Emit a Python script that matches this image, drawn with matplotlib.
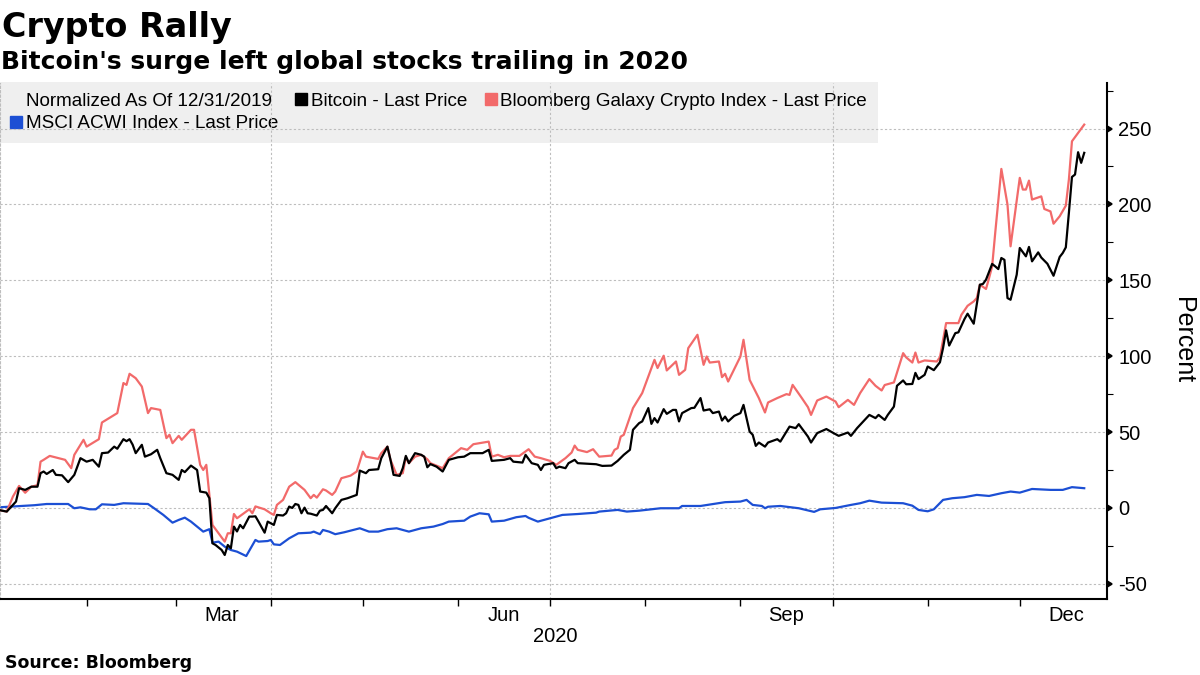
import matplotlib
matplotlib.use("Agg")
import matplotlib.pyplot as plt
import matplotlib.dates as mdates
from matplotlib.lines import Line2D
import pandas as pd

# days after 12/31/2019, percent change since then
galaxy_days = [0, 6, 8, 10, 12, 14, 16, 17, 18, 20, 25, 27, 28, 31, 32, 36, 37, 42, 44, 45, 46, 48, 50,
               52, 53, 56, 58, 59, 60, 62, 63, 66, 67, 69, 70, 71, 73, 77, 78, 79, 80, 81, 85, 86, 87,
               90, 92, 93, 94, 96, 98, 100, 103, 105, 106, 107, 109, 110, 112, 113, 115, 118, 120, 122,
               123, 127, 128, 130, 131, 133, 135, 136, 137, 139, 141, 143, 144, 148, 150, 154, 156, 158,
               163, 164, 166, 168, 170, 173, 176, 178, 180, 183, 185, 188, 190, 191, 192, 195, 197, 199,
               203, 204, 205, 206, 207, 210, 213, 215, 217, 218, 220, 221, 224, 225, 227, 228, 231, 233,
               234, 235, 238, 239, 240, 241, 245, 246, 248, 251, 253, 254, 257, 260, 261, 262, 265, 267,
               268, 270, 273, 276, 277, 280, 282, 284, 287, 289, 291, 292, 295, 298, 299, 301, 302, 303,
               305, 309, 310, 312, 316, 317, 319, 321, 322, 323, 325, 326, 327, 328, 330, 332, 333, 336,
               337, 338, 339, 340, 343, 344, 346, 347, 349, 351, 352, 353, 357]
galaxy_pct = [0, -2.4, 7.5, 14.5, 10, 14, 15, 30.5, 31.7, 34.3, 31.7, 26.2, 35, 44.9, 40.4, 45.3, 56.3,
              62.5, 82.3, 81.1, 88.4, 85.5, 80, 62.5, 65.8, 64.6, 46, 48.2, 42.7, 47.5, 44.9, 51.5, 51.5,
              28.4, 25, 28.4, -11.2, -22.2, -16.7, -16.7, -4, -6.8, -0.9, -3.5, 1, -0.9, -3.5, -4.6, 2,
              5.3, 14, 17, 11.9, 6.4, 8.6, 6.8, 12.3, 11.5, 8.6, 10.8, 19.6, 21.3, 24, 37.1, 33.8, 32.3,
              36.1, 40.4, 31.7, 21.8, 22.9, 33.4, 29.5, 33.8, 35, 32.1, 29.5, 26.2, 32.8, 39.4, 38.3, 42,
              43.7, 33.8, 35, 33.4, 34.3, 34.3, 38.7, 33.8, 32.8, 31, 28.4, 32.8, 36.5, 41.1, 38.3, 36.8,
              38.7, 33.8, 34.5, 38.3, 39.4, 47, 48.2, 65.8, 75.7, 86.6, 97.6, 92.2, 100.3, 90.6, 96.5,
              87.7, 91, 105.3, 114.1, 94.3, 99.8, 95.8, 96.5, 86.2, 88.4, 83.3, 99.8, 110.8, 84.4, 72.4,
              62.9, 69.5, 72.4, 75, 74.5, 81.1, 72.4, 66.4, 61.3, 70.8, 73.4, 70.1, 66.4, 71.2, 67.9,
              75.7, 84.9, 80.5, 77.4, 81, 82.7, 102, 99.2, 95.8, 102.4, 95.8, 97.2, 96.5, 99.4, 121.8,
              121.8, 127.3, 133.2, 136.1, 138.3, 147.1, 144.3, 151.5, 159.2, 181.2, 223.4, 199.9, 172.4,
              217.5, 209.8, 209.8, 215.7, 203.2, 205.3, 197, 195.4, 187.3, 192.2, 199.2, 216.4, 241.6,
              252.6]

bitcoin_days = [0, 6, 9, 10, 12, 14, 16, 17, 18, 19, 21, 22, 24, 26, 28, 30, 32, 34, 36, 37, 39, 41, 42,
                44, 45, 46, 47, 48, 50, 51, 53, 55, 56, 58, 60, 62, 63, 64, 66, 68, 69, 71, 72, 73, 74,
                76, 77, 78, 79, 80, 81, 82, 83, 85, 86, 87, 88, 90, 91, 93, 94, 96, 97, 98, 99, 100, 101,
                102, 103, 104, 105, 107, 108, 109, 110, 112, 113, 115, 117, 120, 121, 123, 124, 127, 128,
                130, 131, 132, 134, 135, 136, 137, 139, 141, 142, 143, 144, 146, 148, 150, 153, 155, 157,
                161, 163, 164, 168, 170, 171, 174, 175, 177, 179, 180, 181, 184, 185, 186, 188, 189, 191,
                192, 198, 200, 203, 205, 207, 209, 210, 212, 213, 215, 216, 217, 218, 220, 221, 223, 224,
                225, 226, 229, 230, 232, 233, 235, 236, 238, 239, 240, 241, 243, 245, 246, 248, 249, 250,
                251, 253, 254, 257, 258, 261, 263, 264, 267, 268, 270, 273, 275, 277, 280, 281, 283, 286,
                287, 289, 290, 292, 293, 295, 296, 298, 299, 301, 302, 303, 305, 306, 308, 310, 311, 312,
                313, 315, 316, 318, 319, 321, 323, 324, 325, 327, 328, 329, 330, 331, 332, 333, 335, 336,
                338, 339, 340, 342, 343, 345, 347, 349, 350, 351, 352, 353, 354, 355, 356, 357]
bitcoin_pct = [0, -2.4, 4.2, 13, 11.9, 14, 14, 22.9, 24, 22.4, 25, 21.8, 21.5, 17, 21.8, 32.8, 30.5, 31.7,
               27.2, 36.1, 36.5, 40.4, 39, 45.3, 44, 45.3, 41.7, 36.1, 41.6, 33.8, 35.4, 38.3, 32.8, 22.9,
               21.8, 18.5, 25, 23.6, 27.9, 25, 10.8, 10.1, 6.4, -23.3, -24.4, -27.7, -31, -24.4, -26.6,
               -12.3, -15.5, -11.2, -13.4, -5.7, -5.7, -5.5, -9, -16.3, -9, -11.2, -4.6, -5, -3.5, 0.9, 0,
               2.6, 2, -3.5, 0.2, -3.5, -3.8, -5, -1.8, -1.3, 1.3, -3.5, -0.2, 5.3, 6.4, 8.6, 24.6, 22.9,
               25, 25.5, 32.8, 40.4, 31.7, 21.8, 21.1, 26.2, 34.3, 29.5, 36.1, 35, 33.8, 26.8, 28.9, 27.2,
               24, 31.7, 33.4, 33.8, 36.1, 36.1, 38.3, 31, 31.7, 32.8, 30.5, 29.9, 35, 29.5, 28.4, 25,
               28.4, 29.5, 26.2, 27.2, 26.2, 29.5, 31.7, 29.5, 28.8, 27.7, 27.9, 31, 35, 38.3, 51.5, 55.9,
               57, 65.8, 55.4, 59.2, 56.3, 65.1, 62, 64.6, 64.6, 57, 62.5, 65.8, 66, 72.4, 64.2, 65, 62.5,
               63.5, 57.6, 60.2, 57, 60.7, 62.5, 67.9, 50.3, 48.2, 40.9, 43.1, 40.4, 43.1, 45.3, 43.7,
               53.6, 52.6, 55.2, 47, 43.1, 49.3, 52, 49.7, 47.5, 49.7, 47.5, 52.6, 59.2, 61.3, 59.2, 61.3,
               58, 61.3, 66.8, 80.5, 84, 81.5, 81.7, 89, 84.9, 87.7, 93.2, 90.8, 96, 105.3, 117, 107,
               115.2, 115.7, 124.5, 128, 121.4, 147.1, 147.6, 150.4, 160.8, 159.2, 157.4, 164.7, 163.5,
               138.3, 137.2, 153.7, 171.3, 165.8, 172, 162.5, 168.4, 165, 160.9, 153, 165.4, 168, 171.7,
               194.4, 218.1, 219.7, 234.4, 227.4, 234]

msci_days = [0, 15, 19, 26, 28, 30, 33, 35, 37, 41, 44, 52, 54, 57, 60, 62, 64, 66, 70, 72, 73, 75, 77,
             79, 81, 84, 87, 88, 91, 92, 93, 95, 98, 101, 105, 106, 108, 109, 111, 113, 116, 121, 124,
             127, 130, 133, 137, 141, 145, 148, 150, 155, 157, 160, 163, 164, 168, 172, 175, 176, 179,
             183, 187, 192, 198, 199, 205, 208, 212, 219, 225, 226, 232, 240, 245, 247, 249, 252, 253,
             254, 258, 264, 269, 271, 276, 281, 284, 287, 291, 298, 301, 303, 306, 308, 311, 314, 318,
             322, 326, 330, 333, 336, 340, 346, 350, 353, 357]
msci_pct = [0, 1.8, 2.6, 2.6, -0.2, 0.4, -0.9, -0.9, 2.4, 2, 3.1, 2.6, -0.2, -4.6, -9.7, -7.9, -6.4, -9,
            -15.6, -14, -22.9, -22.2, -25.5, -27.7, -28.8, -31.7, -21.1, -22.2, -21.8, -21.1, -24, -24.4,
            -20, -16.7, -16.3, -15.6, -17.3, -14.5, -15.6, -17.3, -16, -13.4, -15.6, -15.6, -14, -13.4,
            -15.6, -13.4, -12.3, -10.6, -9, -8.4, -5.7, -3.5, -4.2, -9, -8.4, -6.1, -5.3, -6.5, -9, -6.8,
            -4.6, -4, -3.1, -2.4, -1.3, -2.4, -1.8, -0.2, -0.2, 1.3, 1.3, 3.8, 4.2, 5.3, 2, 1.3, -0.2,
            0.8, 1.3, -0.2, -2.6, -0.9, 0, 2, 3.1, 4.8, 3.5, 3.1, 1.5, -1.3, -2.2, -0.9, 5.3, 6.4, 7.1,
            8.6, 7.9, 9.7, 10.8, 10.1, 12.5, 11.9, 11.9, 13.7, 13]

base_date = pd.Timestamp("2019-12-31")
y_ticks = [-50, 0, 50, 100, 150, 200, 250]
quarter_starts = ["2020-04-01", "2020-07-01", "2020-10-01"]

RED = "#f26a6a"
BLUE = "#1c4fd4"
GRID = "#bdbdbd"


def to_dates(days):
    return base_date + pd.to_timedelta(days, unit="D")


plt.rcParams["font.family"] = ["Liberation Sans", "DejaVu Sans"]
plt.rcParams["axes.unicode_minus"] = False

fig = plt.figure(figsize=(12, 6.75), dpi=100)
ax = fig.add_axes([0, 0.1126, 0.9225, 0.7644])

ax.plot(to_dates(msci_days), msci_pct, color=BLUE, lw=1.6, zorder=2)
ax.plot(to_dates(galaxy_days), galaxy_pct, color=RED, lw=1.6, zorder=3)
ax.plot(to_dates(bitcoin_days), bitcoin_pct, color="black", lw=1.6, zorder=4)

ax.set_xlim(pd.Timestamp("2020-01-03 19:00"), pd.Timestamp("2020-12-29 10:00"))
ax.set_ylim(-60, 280)

# y axis on the right
ax.yaxis.tick_right()
ax.set_yticks(y_ticks)
ax.set_yticks(range(-50, 276, 25), minor=True)
ax.tick_params(axis="y", which="major", labelsize=14.5, length=4, width=1.2, pad=4)
ax.tick_params(axis="y", which="minor", length=4, width=0.8)
ax.set_axisbelow(True)
ax.yaxis.grid(True, color=GRID, linestyle=(0, (2, 2)), lw=0.8)

# x axis: ticks at month starts, labels in the middle of quarter-end months
ax.xaxis.set_minor_locator(mdates.MonthLocator())
ax.xaxis.set_major_locator(mdates.MonthLocator(bymonth=[3, 6, 9, 12], bymonthday=16))
ax.xaxis.set_major_formatter(mdates.DateFormatter("%b"))
ax.tick_params(axis="x", which="major", length=0, labelsize=14.5, pad=5)
ax.tick_params(axis="x", which="minor", length=5, width=1)
for q in quarter_starts:
    ax.axvline(pd.Timestamp(q), color=GRID, linestyle=(0, (2, 2)), lw=0.8, zorder=0.5)

ax.spines["top"].set_visible(False)
ax.spines["left"].set_color(GRID)
ax.spines["left"].set_linestyle((0, (2, 2)))
ax.spines["left"].set_linewidth(0.8)
ax.spines["bottom"].set_linewidth(1.5)
ax.spines["right"].set_linewidth(1.5)

handles = [
    Line2D([], [], linestyle="none"),
    Line2D([], [], linestyle="none", marker="s", markersize=8, color=BLUE),
    Line2D([], [], linestyle="none", marker="s", markersize=8, color="black"),
    Line2D([], [], linestyle="none", marker="s", markersize=8, color=RED),
]
labels = ["Normalized As Of 12/31/2019", "MSCI ACWI Index - Last Price",
          "Bitcoin - Last Price", "Bloomberg Galaxy Crypto Index - Last Price"]
leg = ax.legend(handles, labels, loc="upper left", bbox_to_anchor=(0, 1.002), ncol=3,
                fontsize=13.6, frameon=True, fancybox=False, facecolor="#efefef",
                edgecolor="none", framealpha=1, borderaxespad=0, borderpad=0.55,
                handlelength=0.6, handletextpad=0.2, columnspacing=0.95, labelspacing=0.3)
leg.set_zorder(0.3)

fig.text(0.002, 1 - 28 / 675, "Crypto Rally", fontsize=24, fontweight="bold",
         family="DejaVu Sans", va="center")
fig.text(0.001, 1 - 62 / 675, "Bitcoin's surge left global stocks trailing in 2020", fontsize=18,
         fontweight="bold", family="DejaVu Sans", va="center")
fig.text(0.004, 1 - 663 / 675, "Source: Bloomberg", fontsize=12.5, fontweight="bold",
         family="DejaVu Sans", va="center")
fig.text(555 / 1200, 1 - 636 / 675, "2020", fontsize=14.5, ha="center", va="center")
fig.text(1183 / 1200, 1 - 340 / 675, "Percent", fontsize=18, rotation=270, ha="center", va="center")

# Bloomberg-style arrow ticks on the value axis
for t in ax.yaxis.get_major_ticks():
    t.tick2line.set_marker(9)
    t.tick2line.set_markersize(5)

fig.savefig("out.png", dpi=100)
